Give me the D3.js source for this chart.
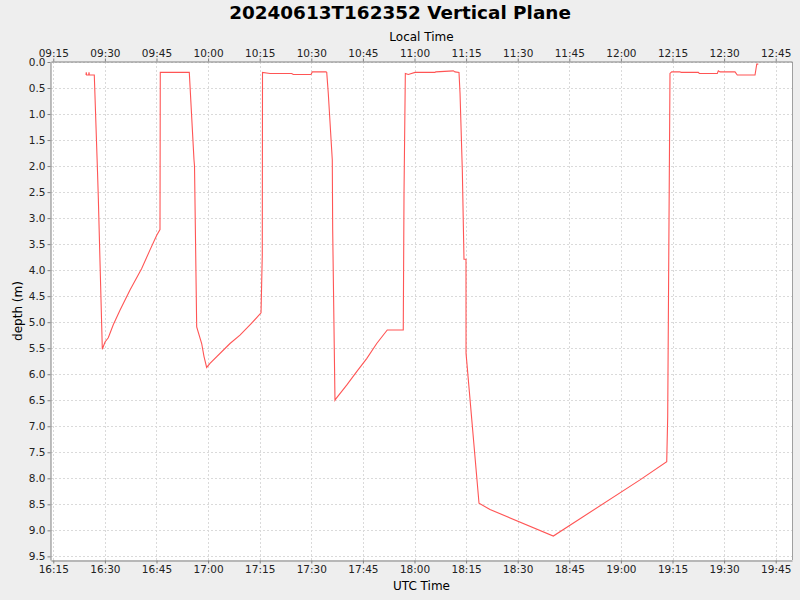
<!DOCTYPE html>
<html><head><meta charset="utf-8">
<script src="https://cdn.jsdelivr.net/npm/d3@7"></script>
<style>
html,body{margin:0;padding:0;background:#eeeeee;}
svg{display:block;font-family:"DejaVu Sans",sans-serif;}
</style></head>
<body><svg id="c" width="800" height="600"></svg>
<script>
// ---- data (UTC time on 2024-06-13, depth in metres) ----
const times = ["16:24:31","16:24:35","16:24:41","16:25:17","16:25:23","16:25:28","16:26:55","16:27:51","16:28:05","16:29:15",
"16:30:02","16:30:59","16:32:26","16:34:23","16:37:18","16:40:42","16:43:07","16:45:04","16:46:01","16:46:06",
"16:54:32","16:55:54","16:56:03","16:56:41","16:58:08","16:58:49","16:59:35","17:00:33","17:06:22","17:09:16",
"17:12:40","17:15:23","17:15:45","17:15:49","17:18:00","17:24:18","17:24:46","17:29:55","17:30:17","17:34:16",
"17:34:29","17:34:56","17:36:06","17:36:13","17:36:53","17:37:11","17:40:17","17:43:12","17:46:06","17:49:01",
"17:52:05","17:56:44","17:56:57","17:57:20","17:58:12","18:00:09","18:05:58","18:06:10","18:11:17","18:11:46",
"18:12:56","18:13:14","18:13:54","18:14:23","18:14:58","18:14:59","18:18:45","18:21:57","18:40:21","19:05:33",
"19:13:19","19:13:36","19:14:16","19:14:46","19:17:11","19:17:28","19:22:30","19:22:47","19:28:01","19:28:19",
"19:28:49","19:33:10","19:33:50","19:38:59","19:39:29","19:39:56"];
const depths = [0.25,0.20,0.25,0.25,0.20,0.25,0.25,2.10,2.60,5.52,
5.38,5.30,5.05,4.77,4.38,3.97,3.61,3.33,3.22,0.20,
0.20,1.88,2.00,5.09,5.41,5.66,5.87,5.79,5.41,5.25,
5.02,4.82,3.71,0.20,0.22,0.22,0.24,0.24,0.19,0.19,
0.20,0.60,1.88,3.23,6.50,6.47,6.21,5.95,5.70,5.41,
5.15,5.15,2.52,0.22,0.24,0.20,0.20,0.19,0.17,0.19,
0.20,0.60,2.08,3.79,3.79,5.60,8.48,8.60,9.11,8.03,
7.68,6.82,0.22,0.19,0.19,0.20,0.20,0.22,0.22,0.17,
0.19,0.19,0.25,0.25,0.04,0.04];
const utcTicks = ["16:15","16:30","16:45","17:00","17:15","17:30","17:45","18:00","18:15","18:30","18:45","19:00","19:15","19:30","19:45"];
const localTicks = ["09:15","09:30","09:45","10:00","10:15","10:30","10:45","11:00","11:15","11:30","11:45","12:00","12:15","12:30","12:45"];
const depthTicks = [0,0.5,1,1.5,2,2.5,3,3.5,4,4.5,5,5.5,6,6.5,7,7.5,8,8.5,9,9.5];
const xStart = "16:14:20", xEnd = "19:49:44";
const yMax = 9.57;
const titleText = "20240613T162352 Vertical Plane";

// ---- helpers ----
function toDate(s){const p=s.split(":").map(Number);return new Date(Date.UTC(2024,5,13,p[0],p[1],p[2]||0));}
const data = times.map((t,i)=>({t:toDate(t),d:depths[i]}));

const L=51,R=792,T=62,B=560;
const svg=d3.select("#c");
const x=d3.scaleUtc().domain([toDate(xStart),toDate(xEnd)]).range([L,R]);
const y=d3.scaleLinear().domain([0,yMax]).range([T,B]);

// plot background
svg.append("rect").attr("x",L).attr("y",T).attr("width",R-L).attr("height",B-T).attr("fill","#ffffff");

// gridlines
const g=svg.append("g");
utcTicks.forEach(s=>{const xx=Math.round(x(toDate(s)))+0.5;
 g.append("line").attr("x1",xx).attr("x2",xx).attr("y1",T).attr("y2",B).attr("stroke","#dadada").attr("stroke-width",1).attr("stroke-dasharray","2,2");});
depthTicks.forEach(v=>{const yy=Math.round(y(v))+0.5;
 g.append("line").attr("x1",L).attr("x2",R).attr("y1",yy).attr("y2",yy).attr("stroke","#dadada").attr("stroke-width",1).attr("stroke-dasharray","2,2");});

// right outline
svg.append("line").attr("x1",R+0.5).attr("x2",R+0.5).attr("y1",T).attr("y2",B).attr("stroke","#a0a0a0");

// axes
const tickVals=utcTicks.map(toDate);
const axBottom=d3.axisBottom(x).tickValues(tickVals).tickFormat((d,i)=>utcTicks[i]).tickSizeInner(3).tickSizeOuter(0).tickPadding(2);
const axTop=d3.axisTop(x).tickValues(tickVals).tickFormat((d,i)=>localTicks[i]).tickSizeInner(3).tickSizeOuter(0).tickPadding(2);
const axLeft=d3.axisLeft(y).tickValues(depthTicks).tickFormat(d3.format(".1f")).tickSizeInner(3).tickSizeOuter(0).tickPadding(2);

function style(sel){
 sel.select(".domain").attr("stroke","#808080");
 sel.selectAll(".tick line").attr("stroke","#808080");
 sel.selectAll(".tick text").attr("fill","#222").style("font-size","10.5px").style("font-family","DejaVu Sans");
}
svg.append("g").attr("transform",`translate(0,${B+0.5})`).call(axBottom).call(style);
svg.append("g").attr("transform",`translate(0,${T-0.5})`).call(axTop).call(style);
svg.append("g").attr("transform",`translate(${L-0.5},0)`).call(axLeft).call(style);

// line
svg.append("path").datum(data)
 .attr("d",d3.line().x(d=>x(d.t)).y(d=>y(d.d)))
 .attr("fill","none").attr("stroke","#ff5555").attr("stroke-width",1.1);

// labels
svg.append("text").attr("x",400).attr("y",19).attr("text-anchor","middle")
 .style("font-size","18.4px").style("font-weight","bold").attr("fill","#000").text(titleText);
svg.append("text").attr("x",(L+R)/2).attr("y",41).attr("text-anchor","middle")
 .style("font-size","12px").attr("fill","#000").text("Local Time");
svg.append("text").attr("x",(L+R)/2).attr("y",590).attr("text-anchor","middle")
 .style("font-size","12px").attr("fill","#000").text("UTC Time");
svg.append("text").attr("transform",`translate(22,${(T+B)/2}) rotate(-90)`).attr("text-anchor","middle")
 .style("font-size","12px").attr("fill","#000").text("depth (m)");
</script></body></html>
